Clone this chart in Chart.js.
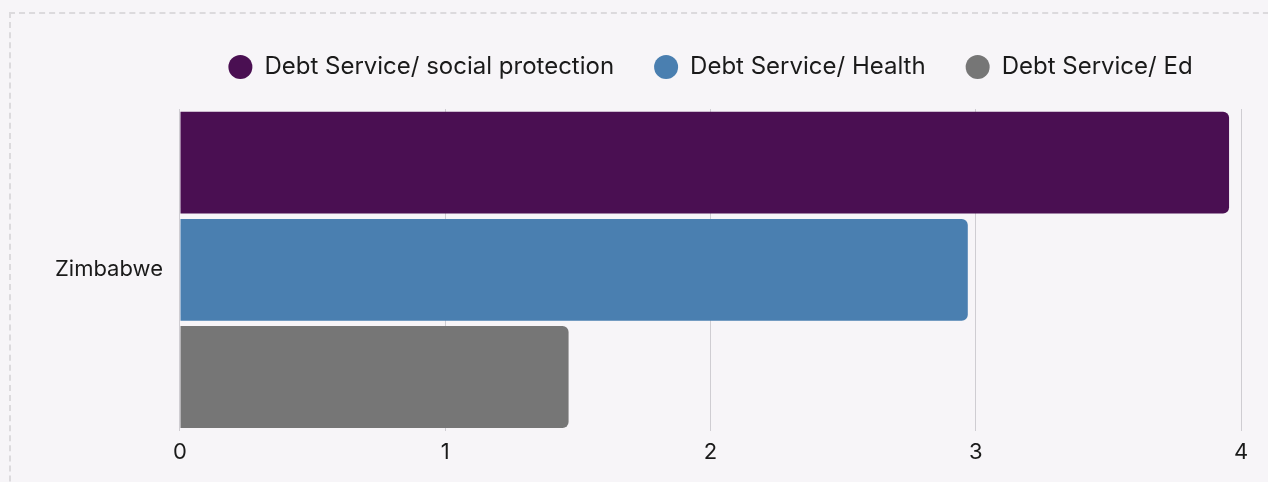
<!DOCTYPE html>
<html>
<head>
<meta charset="utf-8">
<script src="https://cdn.jsdelivr.net/npm/chart.js@4/dist/chart.umd.min.js"></script>
<style>
  html, body { margin: 0; padding: 0; background: #f7f5f8; overflow: hidden; }
  #frame { position: absolute; left: 9px; top: 12px; width: 1300px; height: 520px;
           border: 2px dashed #dcdadd; box-sizing: border-box; }
  #wrap { position: absolute; left: 0; top: 0; width: 1268px; height: 482px; }
</style>
</head>
<body>
<div id="frame"></div>
<div id="wrap"><canvas id="debtChart" width="1268" height="482"></canvas></div>
<script>
// Dữ liệu
var countries = ['Zimbabwe'];
var seriesNames = ['Debt Service/ social protection', 'Debt Service/ Health', 'Debt Service/ Ed'];
var socialProtection = [3.955];
var health = [2.97];
var education = [1.465];
var seriesColors = ['#4a0f52', '#4a7fb0', '#767676'];

var ctx = document.getElementById('debtChart').getContext('2d');
Chart.defaults.font.family = 'Inter, "Noto Sans", sans-serif';
Chart.defaults.color = '#1a1a1a';

// chỉnh chiều cao legend cho khớp ảnh gốc
var legendFit = {
    id: 'legendFit',
    beforeInit: function (chart) {
        var lg = chart.legend;
        if (!lg) return;
        var fit = lg.fit;
        lg.fit = function () {
            fit.call(this);
            this.height += 20;
        };
    }
};

var values = [socialProtection, health, education];
var datasets = seriesNames.map(function (name, i) {
    return {
        label: name,
        data: values[i],
        backgroundColor: seriesColors[i],
        borderRadius: 6,
        borderSkipped: 'start',
        categoryPercentage: 1.0,
        barPercentage: 0.95
    };
});

new Chart(ctx, {
    type: 'bar',
    data: { labels: countries, datasets: datasets },
    options: {
        indexAxis: 'y',
        responsive: false,
        animation: false,
        layout: { padding: { top: 15, right: 27, bottom: 7, left: 46 } },
        scales: {
            x: {
                min: 0, max: 4,
                ticks: { stepSize: 1, font: { size: 22 }, padding: 9 },
                grid: { color: '#cfcdd2', drawTicks: false },
                border: { display: false }
            },
            y: {
                ticks: { font: { size: 22 }, padding: 9 },
                grid: { display: false },
                border: { display: false }
            }
        },
        plugins: {
            legend: {
                fullSize: false,
                labels: {
                    usePointStyle: true,
                    pointStyle: 'circle',
                    pointStyleWidth: 24,
                    boxHeight: 17,
                    padding: 40,
                    font: { size: 24 }
                }
            },
            tooltip: { enabled: false }
        }
    },
    plugins: [legendFit]
});
</script>
</body>
</html>
